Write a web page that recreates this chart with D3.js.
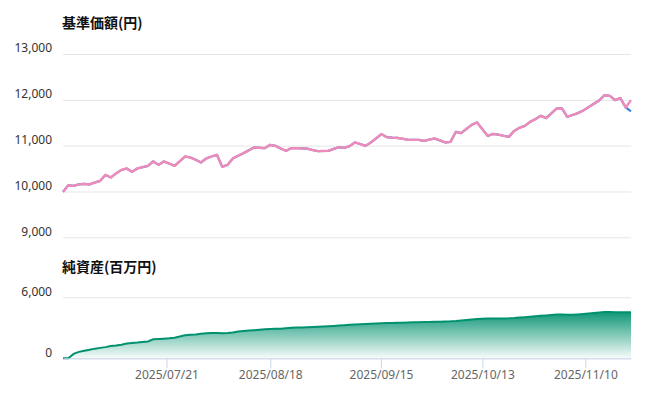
<!DOCTYPE html>
<html>
<head>
<meta charset="utf-8">
<script src="https://cdn.jsdelivr.net/npm/d3@7"></script>
<style>
  html, body { margin: 0; padding: 0; background: #fff; }
  #svgContainer { width: 666px; height: 399px; }
  text { font-family: "Noto Sans", "Noto Sans CJK JP", sans-serif; }
  .title { font-family: "Noto Sans CJK JP", sans-serif; font-weight: bold; font-size: 14px; fill: #111; }
</style>
</head>
<body>
<div id="svgContainer"></div>
<script>
// 基準価額 (pink, reinvested) and 基準価額 (blue) – daily points
const navValues = [
  9990, 10137, 10122, 10155, 10166, 10153, 10196, 10231, 10362, 10305,
  10395, 10470, 10502, 10428, 10502, 10530, 10560, 10655, 10581, 10655,
  10610, 10560, 10660, 10764, 10742, 10690, 10633, 10720, 10764, 10800,
  10538, 10581, 10721, 10780, 10836, 10900, 10961, 10953, 10945, 11017,
  10996, 10940, 10886, 10945, 10943, 10940, 10935, 10905, 10880, 10883,
  10886, 10930, 10967, 10952, 10990, 11070, 11035, 10996, 11070, 11160,
  11251, 11185, 11175, 11168, 11150, 11127, 11127, 11127, 11105, 11130,
  11157, 11115, 11070, 11083, 11301, 11273, 11365, 11454, 11507, 11360,
  11214, 11255, 11240, 11215, 11192, 11323, 11390, 11432, 11520, 11579,
  11651, 11601, 11705, 11812, 11812, 11629, 11670, 11710, 11765, 11840,
  11915, 11985, 12102, 12087, 11993, 12037, 11834, 11993
];
const navBlueValues = [
  9990, 10137, 10122, 10155, 10166, 10153, 10196, 10231, 10362, 10305,
  10395, 10470, 10502, 10428, 10502, 10530, 10560, 10655, 10581, 10655,
  10610, 10560, 10660, 10764, 10742, 10690, 10633, 10720, 10764, 10800,
  10538, 10581, 10721, 10780, 10836, 10900, 10961, 10953, 10945, 11017,
  10996, 10940, 10886, 10945, 10943, 10940, 10935, 10905, 10880, 10883,
  10886, 10930, 10967, 10952, 10990, 11070, 11035, 10996, 11070, 11160,
  11251, 11185, 11175, 11168, 11150, 11127, 11127, 11127, 11105, 11130,
  11157, 11115, 11070, 11083, 11301, 11273, 11365, 11454, 11507, 11360,
  11214, 11255, 11240, 11215, 11192, 11323, 11390, 11432, 11520, 11579,
  11651, 11601, 11705, 11812, 11812, 11629, 11670, 11710, 11765, 11840,
  11915, 11985, 12102, 12087, 11993, 12037, 11834, 11750
];
// 純資産 (百万円)
const assetValues = [
  0, 0, 430, 630, 740, 840, 950, 1025, 1100, 1200,
  1250, 1325, 1455, 1500, 1545, 1610, 1660, 1870, 1895, 1930,
  1970, 2030, 2145, 2260, 2310, 2350, 2420, 2470, 2480, 2480,
  2460, 2480, 2545, 2635, 2680, 2725, 2760, 2800, 2850, 2890,
  2900, 2915, 2955, 2995, 3020, 3040, 3060, 3080, 3100, 3130,
  3155, 3185, 3220, 3255, 3290, 3315, 3340, 3365, 3395, 3420,
  3445, 3460, 3475, 3490, 3505, 3525, 3540, 3555, 3570, 3580,
  3595, 3605, 3620, 3635, 3665, 3715, 3765, 3820, 3870, 3900,
  3910, 3915, 3920, 3925, 3930, 3960, 4005, 4045, 4090, 4130,
  4175, 4215, 4260, 4300, 4320, 4280, 4280, 4320, 4365, 4405,
  4450, 4505, 4550, 4545, 4540, 4530, 4525, 4520
];
const navTicks = [9000, 10000, 11000, 12000, 13000];
const assetTicks = [0, 6000];
const dateLabels = ["2025/07/21", "2025/08/18", "2025/09/15", "2025/10/13", "2025/11/10"];
const dateIndex = [19.5, 39.05, 59.9, 79.0, 98.4];   // position of each date on the trading-day axis

class FundChart {

    constructor(container) {
        this._width = 666;
        this._height = 399;
        this._left = 63;
        this._right = 631;
        this._SVG(container)
            ._scales()
            ._drawNav()
            ._drawAsset();
    }

    _SVG(container) {
        this._svg = d3.select("#" + container).append("svg")
            .attr("width", this._width)
            .attr("height", this._height)
            .attr("viewBox", "0 0 " + this._width + " " + this._height)
            .style("display", "block");
        return this;
    }

    _scales() {
        this._x = d3.scaleLinear()
            .domain([0, navValues.length - 1])
            .range([this._left, this._right]);
        this._yNav = d3.scaleLinear().domain([9000, 13000]).range([237.3, 54]);
        this._yAsset = d3.scaleLinear().domain([0, 6000]).range([358.3, 297.3]);
        return this;
    }

    _yAxis(scale, ticks) {
        const g = this._svg.append("g")
            .attr("transform", "translate(" + this._left + ",0)")
            .call(d3.axisLeft(scale)
                .tickValues(ticks)
                .tickSize(-(this._right - this._left))
                .tickPadding(11)
                .tickFormat(d3.format(",")));
        g.select(".domain").remove();
        g.selectAll("line").attr("stroke", "#e6e6e6");
        g.selectAll("text")
            .attr("y", -6)
            .attr("fill", "#333")
            .style("font-size", "12px");
        return g;
    }

    _drawNav() {
        const x = this._x, y = this._yNav;
        this._yAxis(y, navTicks);

        this._svg.append("text")
            .attr("class", "title")
            .attr("x", 62)
            .attr("y", 28)
            .text("基準価額(円)");

        const line = d3.line()
            .x((d, i) => x(i))
            .y(d => y(d));

        this._svg.append("path")
            .datum(navBlueValues)
            .attr("fill", "none")
            .attr("stroke", "#3a7fdc")
            .attr("stroke-width", 2.2)
            .attr("stroke-linejoin", "round")
            .attr("d", line);

        this._svg.append("path")
            .datum(navValues)
            .attr("fill", "none")
            .attr("stroke", "#f08bb9")
            .attr("stroke-width", 2.4)
            .attr("stroke-linejoin", "round")
            .attr("d", line);
        return this;
    }

    _drawAsset() {
        const x = this._x, y = this._yAsset;
        this._yAxis(y, assetTicks);

        this._svg.append("text")
            .attr("class", "title")
            .attr("x", 62)
            .attr("y", 272)
            .text("純資産(百万円)");

        const grad = this._svg.append("defs").append("linearGradient")
            .attr("id", "assetFill")
            .attr("gradientUnits", "userSpaceOnUse")
            .attr("x1", 0).attr("y1", y(4600))
            .attr("x2", 0).attr("y2", y(0));
        grad.append("stop").attr("offset", 0).attr("stop-color", "#00916e").attr("stop-opacity", 0.95);
        grad.append("stop").attr("offset", 1).attr("stop-color", "#00916e").attr("stop-opacity", 0.03);

        const area = d3.area()
            .x((d, i) => x(i))
            .y0(y(0))
            .y1(d => y(d));

        this._svg.append("path")
            .datum(assetValues)
            .attr("fill", "url(#assetFill)")
            .attr("d", area);

        this._svg.append("path")
            .datum(assetValues)
            .attr("fill", "none")
            .attr("stroke", "#00916e")
            .attr("stroke-width", 2)
            .attr("d", d3.line().x((d, i) => x(i)).y(d => y(d)));

        // date axis
        const g = this._svg.append("g")
            .attr("transform", "translate(0," + y(0) + ")")
            .call(d3.axisBottom(x)
                .tickValues(dateIndex)
                .tickSize(10)
                .tickSizeOuter(0)
                .tickPadding(2)
                .tickFormat((d, i) => dateLabels[i]));
        g.select(".domain").attr("stroke", "#ccd6eb");
        g.selectAll(".tick line").attr("stroke", "#ccd6eb");
        g.selectAll("text")
            .attr("fill", "#666")
            .style("font-size", "12px");
        return this;
    }
}

new FundChart("svgContainer");
</script>
</body>
</html>
